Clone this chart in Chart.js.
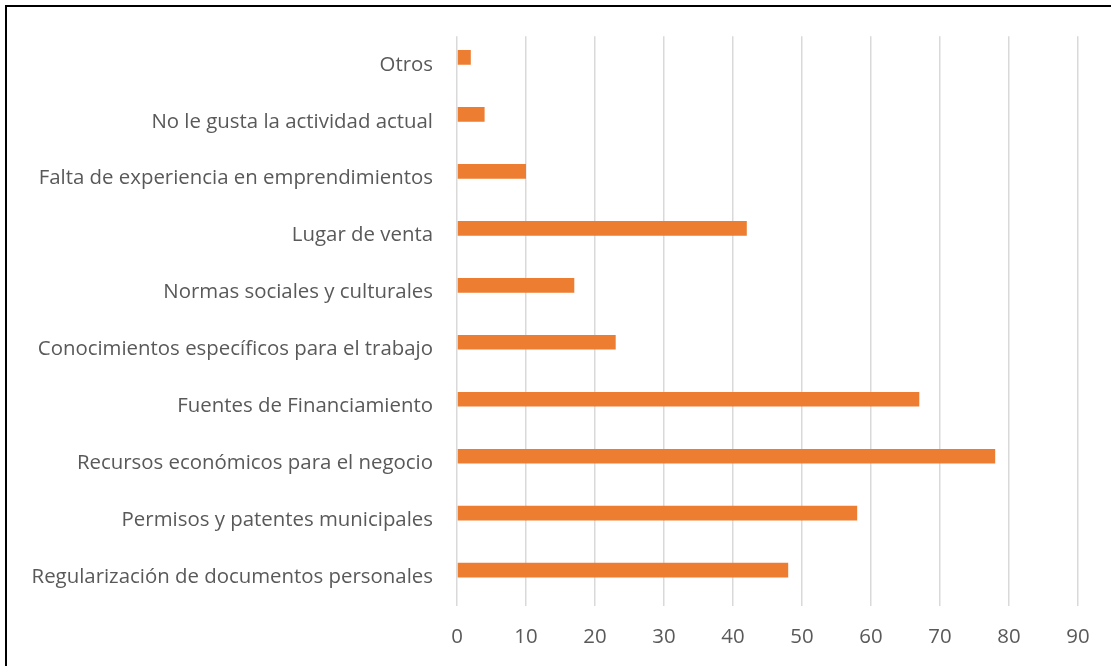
<!DOCTYPE html>
<html>
<head>
<meta charset="utf-8">
<script src="https://cdn.jsdelivr.net/npm/chart.js@4.4.1/dist/chart.umd.min.js"></script>
<style>
  html, body { margin: 0; padding: 0; background: #fff; overflow: hidden; }
  #wrap { position: relative; width: 1111px; height: 666px; }
  #frame { position: absolute; left: 5px; top: 5px; width: 2000px; height: 2000px;
           border-top: 2px solid #000; border-left: 2px solid #000; box-sizing: border-box; pointer-events: none; }
  canvas { position: absolute; left: 0; top: 0; }
</style>
</head>
<body>
<div id="wrap">
  <canvas id="c" width="1111" height="666"></canvas>
  <div id="frame"></div>
</div>
<script>
const categories = [
  'Otros',
  'No le gusta la actividad actual',
  'Falta de experiencia en emprendimientos',
  'Lugar de venta',
  'Normas sociales y culturales',
  'Conocimientos específicos para el trabajo',
  'Fuentes de Financiamiento',
  'Recursos económicos para el negocio',
  'Permisos y patentes municipales',
  'Regularización de documentos personales'
];
const values = [2, 4, 10, 42, 17, 23, 67, 78, 58, 48];
// Excel chart holds a second, empty series that shifts the visible bar upward
const emptySeries = [null, null, null, null, null, null, null, null, null, null];
const xMin = 0;
const xMax = 90;
const xStep = 10;

const fontFamily = "'Open Sans', 'Noto Sans', sans-serif";
const mctx = document.createElement('canvas').getContext('2d');
mctx.font = '18px ' + fontFamily;
const longest = Math.max(...categories.map(s => mctx.measureText(s).width));
const fontSize = Math.round(18 * 401 / longest * 10) / 10;
const textColor = '#595959';

new Chart(document.getElementById('c'), {
  type: 'bar',
  data: {
    labels: categories,
    datasets: [
      { data: values, backgroundColor: '#ED7D31', borderWidth: 0 },
      { data: emptySeries, backgroundColor: '#A5A5A5', borderWidth: 0 }
    ]
  },
  options: {
    indexAxis: 'y',
    responsive: false,
    animation: false,
    devicePixelRatio: 1,
    categoryPercentage: 0.515,
    barPercentage: 1,
    layout: { padding: { top: 35, right: 33, left: 0, bottom: 0 } },
    plugins: { legend: { display: false }, tooltip: { enabled: false } },
    scales: {
      x: {
        type: 'linear',
        min: xMin, max: xMax,
        ticks: { stepSize: xStep, color: textColor, font: { family: fontFamily, size: fontSize }, padding: 19 },
        grid: { color: '#D9D9D9', lineWidth: 1.5, drawTicks: false, tickLength: 0 },
        border: { display: false },
        afterFit: s => { s.height = 60; }
      },
      y: {
        type: 'category',
        ticks: { color: textColor, font: { family: fontFamily, size: fontSize }, padding: 24, autoSkip: false },
        grid: { display: false, drawTicks: false, tickLength: 0 },
        border: { display: false },
        afterFit: s => { s.width = 457; }
      }
    }
  }
});
</script>
</body>
</html>
